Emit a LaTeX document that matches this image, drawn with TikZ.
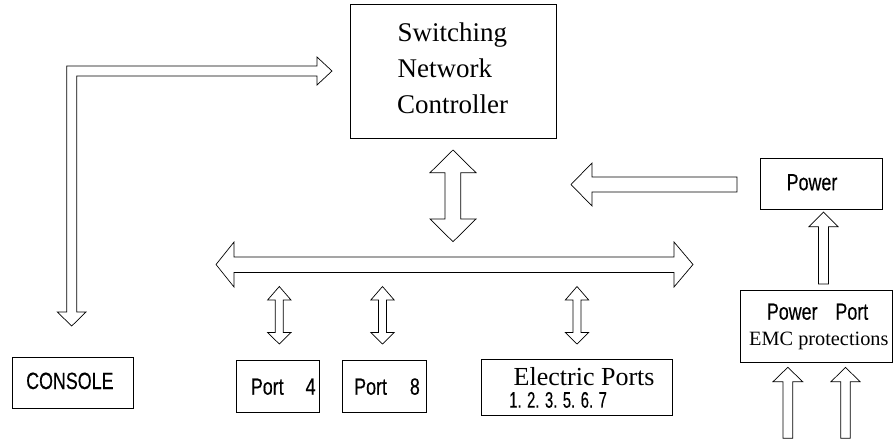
\documentclass[tikz,border=0pt]{standalone}
\usepackage{fontspec}
\usetikzlibrary{calc}
\setmainfont{Liberation Serif}
\newfontfamily\narrowsans[FakeStretch=0.76,FakeBold=0.4]{Liberation Sans}
\newfontfamily\narrowersans[FakeStretch=0.66,FakeBold=0.3]{Liberation Sans}
\tikzset{
  box/.style={draw=black, line width=0.8pt, inner sep=0pt},
  blockarrow/.style={draw=black, line width=0.7pt, fill=white, line join=miter},
  sanstext/.style={inner sep=0pt, anchor=base west, font=\narrowsans\fontsize{23.5}{27}\selectfont},
  seriftext/.style={inner sep=0pt, anchor=base west},
}
\begin{document}
\begin{tikzpicture}[x=1pt,y=-1pt]
\useasboundingbox (0,0) rectangle (894,442);

% boxes
\node[box, minimum width=206pt, minimum height=134.5pt] (ctrl) at (453,71.3) {};
\node[box, minimum width=121.3pt, minimum height=50.3pt] (power) at (821.3,183.9) {};
\node[box, minimum width=152.5pt, minimum height=71.6pt] (pport) at (816.3,326.5) {};
\node[box, minimum width=121pt, minimum height=51pt] (console) at (72.5,382.5) {};
\node[box, minimum width=82.3pt, minimum height=51.6pt] (port4) at (277.9,386.5) {};
\node[box, minimum width=83.3pt, minimum height=51.6pt] (port8) at (384.3,386.5) {};
\node[box, minimum width=190.3pt, minimum height=55.7pt] (eports) at (576.8,387.2) {};

% texts
\node[seriftext, font=\fontsize{27}{36}\selectfont] (t1) at (397.5,41.7) {Switching};
\node[seriftext, font=\fontsize{27}{36}\selectfont] (t2) at (397.5,77.3) {Network};
\node[seriftext, font=\fontsize{27}{36}\selectfont] (t3) at (397,113.3) {Controller};
\node[sanstext] (tpower) at (786.5,190.3) {Power};
\node[sanstext] (tpport) at (766.7,319.7) {Power \hspace{13pt}Port};
\node[seriftext, font=\fontsize{20.3}{24}\selectfont] (temc) at (749,345) {EMC protections};
\node[sanstext] (tconsole) at (26,389) {CONSOLE};
\node[sanstext] (tport4) at (250.7,394.7) {Port \hspace{17pt}4};
\node[sanstext] (tport8) at (354,394.7) {Port \hspace{18pt}8};
\node[seriftext, font=\fontsize{26}{30}\selectfont] (telec) at (513.5,385.7) {Electric Ports};
\node[inner sep=0pt, anchor=base west, font=\narrowersans\fontsize{22.5}{25}\selectfont] (tnums) at (509,407.7) {1. 2. 3. 5. 6. 7};

% L-shaped arrow console <-> controller
\draw[blockarrow] (66.7,312) -- (66.7,66) -- (317,66) -- (317,57) -- (332,71)
  -- (317,85) -- (317,76) -- (76.7,76) -- (76.7,312) -- (86,312) -- (71.7,326)
  -- (57.3,312) -- cycle;

% controller <-> bus
\draw[blockarrow] (453,150) -- (476,172.7) -- (460.7,172.7) -- (460.7,219)
  -- (476,219) -- (453,241.7) -- (430,219) -- (445,219) -- (445,172.7)
  -- (430,172.7) -- cycle;

% bus
\draw[blockarrow] (216,264.5) -- (234,242) -- (234,257) -- (674,257) -- (674,242)
  -- (693,264.5) -- (674,287) -- (674,272.5) -- (234,272.5) -- (234,287) -- cycle;

% power -> controller
\draw[blockarrow] (737,177) -- (592,177) -- (592,163) -- (571,184.5)
  -- (592,206) -- (592,192) -- (737,192) -- cycle;

% power port -> power
\draw[blockarrow] (823.5,212) -- (838,226.7) -- (828.5,226.7) -- (828.5,284)
  -- (818.5,284) -- (818.5,226.7) -- (809,226.7) -- cycle;

% inputs to power port
\draw[blockarrow] (787.8,367.3) -- (802.7,381.7) -- (792.7,381.7) -- (792.7,438.3)
  -- (783,438.3) -- (783,381.7) -- (773,381.7) -- cycle;
\draw[blockarrow] (845.5,367.3) -- (860,381.7) -- (850.3,381.7) -- (850.3,438.3)
  -- (840.7,438.3) -- (840.7,381.7) -- (831,381.7) -- cycle;

% bus <-> ports
\foreach \cx in {279.3,382.5,577} {
  \draw[blockarrow] (\cx,286.5) -- ($(\cx,300)+(11.7,0)$) -- ($(\cx,300)+(4,0)$)
    -- ($(\cx,332.5)+(4,0)$) -- ($(\cx,332.5)+(11.7,0)$) -- (\cx,344)
    -- ($(\cx,332.5)+(-11.7,0)$) -- ($(\cx,332.5)+(-4,0)$) -- ($(\cx,300)+(-4,0)$)
    -- ($(\cx,300)+(-11.7,0)$) -- cycle;
}
\end{tikzpicture}
\end{document}
